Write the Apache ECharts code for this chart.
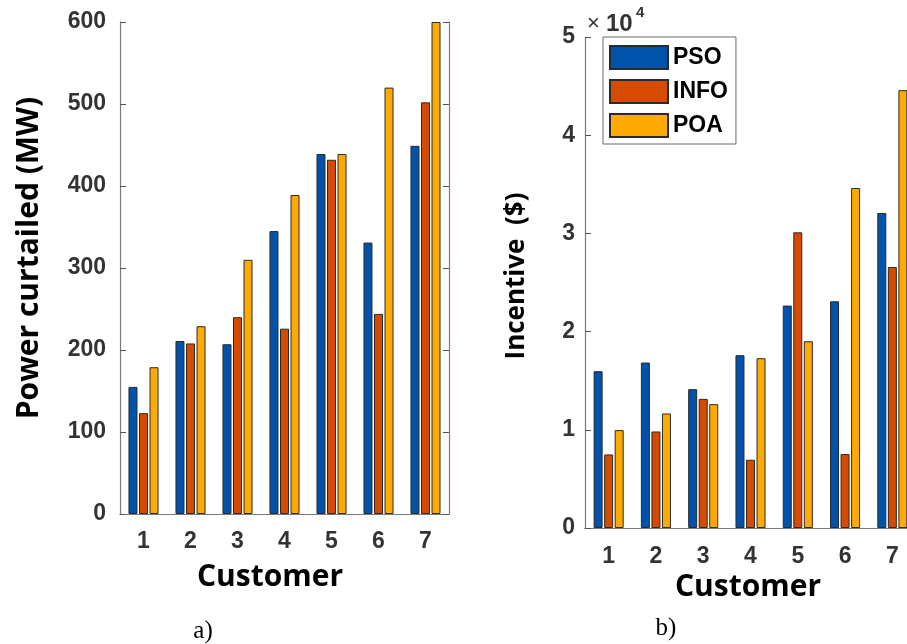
<!DOCTYPE html>
<html>
<head>
<meta charset="utf-8">
<script src="https://cdn.jsdelivr.net/npm/echarts@6/dist/echarts.min.js"></script>
<style>html,body{margin:0;padding:0;background:#fff;}#c{width:907px;height:644px;}</style>
</head>
<body>
<div id="c"></div>
<script>
const categories = ['1', '2', '3', '4', '5', '6', '7'];
const seriesNames = ['PSO', 'INFO', 'POA'];
const powerPSO = [155, 211, 207, 345, 439, 331, 449];
const powerINFO = [123, 208, 240, 226, 432, 244, 502];
const powerPOA = [179, 229, 310, 389, 439, 520, 600];
const incPSO = [15970, 16850, 14140, 17600, 22650, 23090, 32080];
const incINFO = [7490, 9830, 13150, 6950, 30110, 7530, 26580];
const incPOA = [9970, 11660, 12610, 17290, 19020, 34620, 44590];
const powerTicks = [0, 600, 100];
const incTicks = [0, 50000, 10000];

const colors = ['#0052AA', '#D64B00', '#FFAA00'];
const axisGray = '#7a7a7a';
const labelColor = '#333333';

function xAxes(gridIndex, fs, margin) {
  return [
    {
      type: 'category', gridIndex: gridIndex, data: categories, position: 'bottom',
      axisLine: {lineStyle: {color: axisGray, width: 1.2}},
      axisTick: {inside: true, length: 5, alignWithLabel: true, lineStyle: {color: '#555'}},
      axisLabel: {color: labelColor, fontSize: fs, fontWeight: 'bold', fontFamily: 'Liberation Sans, Arial', margin: margin}
    },
    {
      type: 'category', gridIndex: gridIndex, data: categories, position: 'top',
      axisLine: {lineStyle: {color: axisGray, width: 1.2}},
      axisTick: {inside: true, length: 5, alignWithLabel: true, lineStyle: {color: '#555'}},
      axisLabel: {show: false}
    }
  ];
}
function yAxes(gridIndex, ticks, fmt, margin) {
  const base = {
    type: 'value', gridIndex: gridIndex, min: ticks[0], max: ticks[1], interval: ticks[2],
    splitLine: {show: false},
    axisLine: {show: true, lineStyle: {color: axisGray, width: 1.2}},
    axisTick: {show: true, inside: true, length: 6, lineStyle: {color: '#555'}}
  };
  return [
    Object.assign({}, base, {position: 'left',
      axisLabel: {color: labelColor, fontSize: 23, fontWeight: 'bold', fontFamily: 'Liberation Sans, Arial', margin: margin, formatter: fmt}}),
    Object.assign({}, base, {position: 'right', axisLabel: {show: false}})
  ];
}
function bars(values, axisIdx) {
  return values.map((vals, i) => ({
    name: seriesNames[i], type: 'bar', xAxisIndex: axisIdx, yAxisIndex: axisIdx,
    data: vals, barWidth: 9, barGap: '17%',
    itemStyle: {color: colors[i], borderColor: '#2a2a2a', borderWidth: 1}
  }));
}

function txt(x, y, text, opts, rot) {
  const style = Object.assign({text: text, x: 0, y: 0, align: 'center', verticalAlign: 'middle', fill: '#000'}, opts);
  const el = {type: 'text', x: x, y: y, style: style};
  if (rot) el.rotation = rot;
  return el;
}
const titleStyle = {fontSize: 30, fontWeight: 'bold', fontFamily: 'Open Sans'};
const serif = {fontSize: 25, fontFamily: 'Liberation Serif'};

const option = {
  animation: false,
  backgroundColor: '#ffffff',
  grid: [
    {left: 120, top: 22, width: 329, height: 492, outerBoundsMode: 'none', containLabel: false},
    {left: 585, top: 37, width: 331, height: 491, outerBoundsMode: 'none', containLabel: false}
  ],
  xAxis: xAxes(0, 23, 16).concat(xAxes(1, 23, 17)),
  yAxis: yAxes(0, powerTicks, v => v, 14).concat(yAxes(1, incTicks, v => v / 10000, 10)),
  legend: {
    data: seriesNames, orient: 'vertical', left: 603, top: 37,
    itemWidth: 58, itemHeight: 23, itemGap: 9, padding: [8, 8, 6, 6],
    borderColor: '#6a6a6a', borderWidth: 1, backgroundColor: '#ffffff',
    icon: 'rect', selectedMode: false,
    textStyle: {color: '#000', fontSize: 23, fontWeight: 'bold', fontFamily: 'Liberation Sans, Arial'}
  },
  series: bars([powerPSO, powerINFO, powerPOA], 0).concat(bars([incPSO, incINFO, incPOA], 2)),
  graphic: [
    txt(29, 258, 'Power curtailed (MW)', titleStyle, Math.PI / 2),
    txt(517, 276, 'Incentive  ($)', {fontSize: 26, fontWeight: 'bold', fontFamily: 'Open Sans'}, Math.PI / 2),
    txt(270, 577, 'Customer', titleStyle),
    txt(748, 587, 'Customer', titleStyle),
    txt(203, 631, 'a)', serif),
    txt(666, 628, 'b)', serif),
    txt(587, 24, '×', {align: 'left', fontSize: 22, fontFamily: 'Liberation Sans', fill: '#333'}),
    txt(606, 24, '10', {align: 'left', fontSize: 24, fontWeight: 'bold', fontFamily: 'Liberation Sans', fill: '#333'}),
    txt(636, 13, '4', {align: 'left', fontSize: 15, fontWeight: 'bold', fontFamily: 'Liberation Sans', fill: '#333'})
  ]
};
const chart = echarts.init(document.getElementById('c'), null, {renderer: 'canvas'});
chart.setOption(option);
</script>
</body>
</html>
